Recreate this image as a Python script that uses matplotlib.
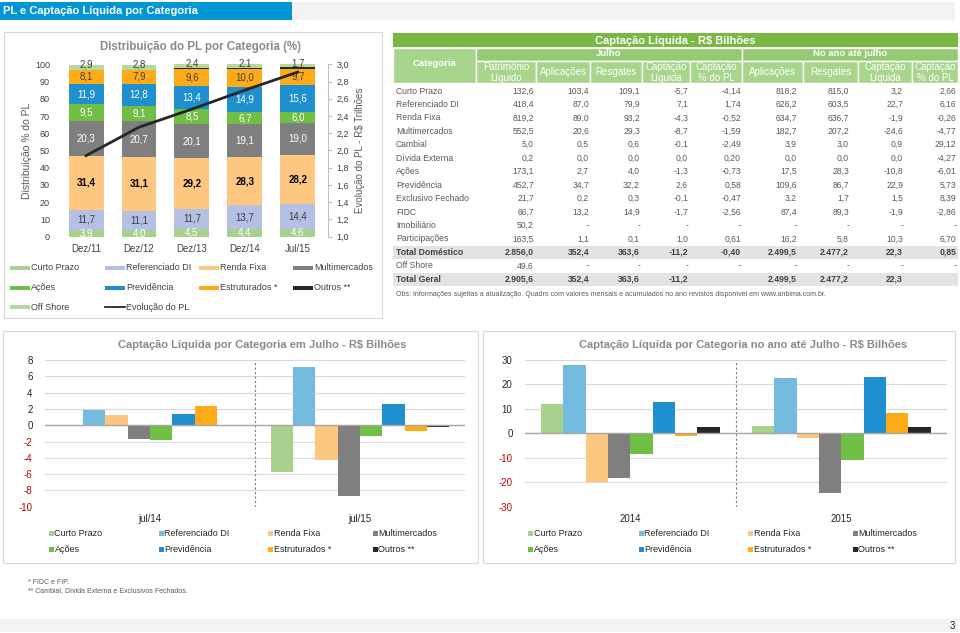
import numpy as np
import matplotlib
matplotlib.use("Agg")
import matplotlib.pyplot as plt
from matplotlib.patches import Rectangle

plt.rcParams['font.family'] = ['Liberation Sans', 'DejaVu Sans']

W, H = 960, 633

# ============================================================
# Data
# ============================================================

periodos_pl = ["Dez/11", "Dez/12", "Dez/13", "Dez/14", "Jul/15"]
curto_prazo = [3.9, 4.0, 4.5, 4.4, 4.6]
referenciado_di = [11.7, 11.1, 11.7, 13.7, 14.4]
renda_fixa = [31.4, 31.1, 29.2, 28.3, 28.2]
multimercados = [20.3, 20.7, 20.1, 19.1, 19.0]
acoes = [9.5, 9.1, 8.5, 6.7, 6.0]
previdencia = [11.9, 12.8, 13.4, 14.9, 15.6]
estruturados = [8.1, 7.9, 9.6, 10.0, 9.7]
outros = [0.1, 0.2, 0.6, 0.8, 0.8]
off_shore = [2.9, 2.8, 2.4, 2.1, 1.7]
evolucao_pl = [1.94, 2.27, 2.48, 2.70, 2.91]   # R$ trilhoes

cats_capt = ["Curto Prazo", "Referenciado DI", "Renda Fixa", "Multimercados",
             "Ações", "Previdência", "Estruturados *", "Outros **"]
meses = ["jul/14", "jul/15"]
capt_jul14 = [-0.05, 1.9, 1.3, -1.75, -1.8, 1.35, 2.3, 0.05]
capt_jul15 = [-5.7, 7.1, -4.3, -8.7, -1.3, 2.6, -0.7, -0.2]
anos = ["2014", "2015"]
capt_ano14 = [11.8, 27.8, -20.1, -18.1, -8.5, 13.0, -1.1, 2.7]
capt_ano15 = [3.2, 22.7, -1.9, -24.6, -10.8, 22.9, 8.4, 2.4]

# table
tab_categorias = ["Curto Prazo", "Referenciado DI", "Renda Fixa", "Multimercados",
                  "Cambial", "Dívida Externa", "Ações", "Previdência",
                  "Exclusivo Fechado", "FIDC", "Imobiliário", "Participações",
                  "Total Doméstico", "Off Shore", "Total Geral"]
tab_pl = ["132,6", "418,4", "819,2", "552,5", "5,0", "0,2", "173,1", "452,7",
          "21,7", "66,7", "50,2", "163,5", "2.856,0", "49,6", "2.905,6"]
tab_aplic_jul = ["103,4", "87,0", "89,0", "20,6", "0,5", "0,0", "2,7", "34,7",
                 "0,2", "13,2", "-", "1,1", "352,4", "-", "352,4"]
tab_resg_jul = ["109,1", "79,9", "93,2", "29,3", "0,6", "0,0", "4,0", "32,2",
                "0,3", "14,9", "-", "0,1", "363,6", "-", "363,6"]
tab_capt_jul = ["-5,7", "7,1", "-4,3", "-8,7", "-0,1", "0,0", "-1,3", "2,6",
                "-0,1", "-1,7", "-", "1,0", "-11,2", "-", "-11,2"]
tab_pct_jul = ["-4,14", "1,74", "-0,52", "-1,59", "-2,49", "0,20", "-0,73", "0,58",
               "-0,47", "-2,56", "-", "0,61", "-0,40", "-", ""]
tab_aplic_ano = ["818,2", "626,2", "634,7", "182,7", "3,9", "0,0", "17,5", "109,6",
                 "3,2", "87,4", "-", "16,2", "2.499,5", "-", "2.499,5"]
tab_resg_ano = ["815,0", "603,5", "636,7", "207,2", "3,0", "0,0", "28,3", "86,7",
                "1,7", "89,3", "-", "5,8", "2.477,2", "-", "2.477,2"]
tab_capt_ano = ["3,2", "22,7", "-1,9", "-24,6", "0,9", "0,0", "-10,8", "22,9",
                "1,5", "-1,9", "-", "10,3", "22,3", "-", "22,3"]
tab_pct_ano = ["2,66", "6,16", "-0,26", "-4,77", "29,12", "-4,27", "-6,01", "5,73",
               "8,39", "-2,86", "-", "6,70", "0,85", "-", ""]

# ============================================================
# Colours
# ============================================================

c_curto = "#a9d18e"
c_refdi = "#b4c0e4"
c_refdi2 = "#74bbe0"
c_renda = "#fdc77f"
c_multi = "#7f7f7f"
c_acoes = "#70bf44"
c_prev = "#1e90d0"
c_estr = "#ffab17"
c_outros = "#262626"
c_off = "#b5d99c"
cores_capt = [c_curto, c_refdi2, c_renda, c_multi, c_acoes, c_prev, c_estr, c_outros]
cinza_txt = "#595959"
titulo_cinza = "#8a8a8a"

# ============================================================
# Figure and background layer (pixel coords)
# ============================================================

fig = plt.figure(figsize=(W / 100, H / 100), dpi=100)
fig.patch.set_facecolor("white")

bg = fig.add_axes([0, 0, 1, 1])
bg.set_xlim(0, W)
bg.set_ylim(H, 0)
bg.axis("off")


def rect(x0, y0, x1, y1, fc, ec="none", lw=0, z=1):
    bg.add_patch(Rectangle((x0, y0), x1 - x0, y1 - y0, facecolor=fc,
                           edgecolor=ec, linewidth=lw, zorder=z))


def px_axes(x0, y0, x1, y1):
    return fig.add_axes([x0 / W, 1 - y1 / H, (x1 - x0) / W, (y1 - y0) / H])


# header
rect(0, 2, 955, 20, "#f2f2f2")
rect(0, 2, 292, 20, "#0096d6")
bg.text(3, 11.5, "PL e Captação Líquida por Categoria", color="white",
        fontsize=8, fontweight="bold", va="center", ha="left")

# panels
rect(4, 32, 382, 318, "white", "#d9d9d9", 0.8)
rect(3, 331, 478, 563, "white", "#d9d9d9", 0.8)
rect(483, 331, 955, 563, "white", "#d9d9d9", 0.8)

# footer
rect(0, 619, 958, 632, "#f2f2f2")
bg.text(952, 626, "3", fontsize=7, color="#262626", ha="center", va="center")
bg.text(28, 582, "* FIDC e FIP.", fontsize=5, color=cinza_txt, va="center")
bg.text(28, 591, "** Cambial, Dívida Externa e Exclusivos Fechados.", fontsize=5,
        color=cinza_txt, va="center")

# ============================================================
# Stacked bar chart - Distribuicao do PL
# ============================================================

ax = px_axes(59.6, 64.3, 328, 236.7)
ax.patch.set_visible(False)
x = np.arange(len(periodos_pl))
series = [
    (curto_prazo, c_curto, "white", "normal"),
    (referenciado_di, c_refdi, "#404040", "normal"),
    (renda_fixa, c_renda, "black", "bold"),
    (multimercados, c_multi, "white", "normal"),
    (acoes, c_acoes, "white", "normal"),
    (previdencia, c_prev, "white", "normal"),
    (estruturados, c_estr, "#404040", "normal"),
    (outros, c_outros, None, None),
    (off_shore, c_off, "#404040", "normal"),
]
base = np.zeros(len(x))
for k, (vals, cor, tcor, tw) in enumerate(series):
    vals = np.array(vals)
    ax.bar(x, vals, bottom=base, width=0.66, color=cor, zorder=2)
    if tcor is not None:
        for i, v in enumerate(vals):
            if k == len(series) - 1:
                ty = base[i] + v + 0.3
            else:
                ty = base[i] + v / 2
            ax.text(x[i], ty, f"{v:.1f}".replace(".", ","), ha="center",
                    va="center", fontsize=7, color=tcor, fontweight=tw, zorder=5)
    base = base + vals

ax.set_xlim(-0.5, 4.57)
ax.set_ylim(0, 100)
ax.set_yticks(np.arange(0, 101, 10))
ax.set_xticks(x, periodos_pl)
for s in ax.spines.values():
    s.set_visible(False)
ax.tick_params(axis="y", length=0, pad=7, labelsize=6.5, labelcolor="#404040")
ax.tick_params(axis="x", length=0, pad=5, labelsize=7, labelcolor="#404040")
ax.set_ylabel("Distribuição % do PL", fontsize=7.5, color="#595959", labelpad=2)

ax2 = ax.twinx()
ax2.plot(x, evolucao_pl, color=c_outros, lw=2, zorder=6)
ax2.set_ylim(1.0, 3.0)
yt = np.arange(1.0, 3.01, 0.2)
ax2.set_yticks(yt, [f"{v:.1f}".replace(".", ",") for v in yt])
for s in ax2.spines.values():
    s.set_visible(False)
ax2.spines["right"].set_visible(True)
ax2.spines["right"].set_color("#bfbfbf")
ax2.tick_params(axis="y", length=3, color="#bfbfbf", pad=3, labelsize=6.5,
                labelcolor="#404040")
ax2.set_ylabel("Evolução do PL - R$ Trilhões", fontsize=7, color="#595959",
               labelpad=4)

bg.text(201, 47, "Distribuição do PL por Categoria (%)", fontsize=8.3,
        fontweight="bold", color=titulo_cinza, ha="center", va="center")

# legend of the stacked chart
leg_top = [
    [("Curto Prazo", c_curto), ("Referenciado DI", c_refdi),
     ("Renda Fixa", c_renda), ("Multimercados", c_multi)],
    [("Ações", c_acoes), ("Previdência", c_prev),
     ("Estruturados *", c_estr), ("Outros **", c_outros)],
    [("Off Shore", c_off), ("Evolução do PL", None)],
]
leg_cols = [10, 105, 199, 293]
leg_rows = [268, 288, 307]
for r, linha in enumerate(leg_top):
    for c, (nome, cor) in enumerate(linha):
        lx, ly = leg_cols[c], leg_rows[r]
        if cor is None:
            bg.plot([lx, lx + 20], [ly, ly], color=c_outros, lw=1.3, zorder=3)
        else:
            rect(lx, ly - 2, lx + 20, ly + 2, cor, z=3)
        bg.text(lx + 21, ly, nome, fontsize=6.5, color="#404040", va="center")

# ============================================================
# Captacao liquida bar charts
# ============================================================


def capt_chart(x0, x1, grupos, v1, v2, ylo, yhi, passo, titulo, tx):
    a = px_axes(x0, 360, x1, 506.7)
    a.patch.set_visible(False)
    w = 0.106
    vals = np.array([v1, v2])
    for i in range(len(cats_capt)):
        xs = np.arange(2) + (i - 3.5) * w
        a.bar(xs, vals[:, i], width=w, color=cores_capt[i], zorder=3)
    a.set_xlim(-0.5, 1.5)
    a.set_ylim(ylo, yhi)
    ticks = np.arange(ylo, yhi + passo, passo)
    a.set_yticks(ticks, [f"{t:g}" for t in ticks])
    for lab, t in zip(a.get_yticklabels(), ticks):
        lab.set_color("#c00000" if t < 0 else "#262626")
    a.grid(axis="y", color="#d9d9d9", lw=0.8, zorder=0)
    a.axhline(0, color="#a6a6a6", lw=1, zorder=4)
    a.axvline(0.5, color="#7f7f7f", lw=0.8, ls=(0, (2, 2)), zorder=2)
    for s in a.spines.values():
        s.set_visible(False)
    a.set_xticks([0, 1], grupos)
    a.tick_params(axis="y", length=0, pad=9, labelsize=7)
    a.tick_params(axis="x", length=0, pad=5, labelsize=7, labelcolor="#262626")
    bg.text(tx, 345, titulo, fontsize=8, fontweight="bold", color=titulo_cinza,
            ha="center", va="center")
    return a


capt_chart(45, 465, meses, capt_jul14, capt_jul15, -10, 8, 2,
           "Captação Líquida por Categoria em Julho - R$ Bilhões", 262)
capt_chart(525, 946.7, anos, capt_ano14, capt_ano15, -30, 30, 10,
           "Captação Líquida por Categoria no ano até Julho - R$ Bilhões", 743)

for off, sq_cols in [(0, [49, 159, 268, 373]), (480, [48, 159, 268, 373])]:
    for i, nome in enumerate(cats_capt):
        lx = off + sq_cols[i % 4]
        ly = [533, 549][i // 4]
        rect(lx, ly - 2.5, lx + 5, ly + 2.5, cores_capt[i], z=3)
        bg.text(lx + 5.5, ly, nome, fontsize=6.5, color="#262626", va="center")

# ============================================================
# Table - Captacao Liquida
# ============================================================

col_edges = [393, 476, 536, 590, 642, 690, 742, 803, 858, 912, 958]
col_right = [534, 589, 640, 688, 741, 797, 849, 903, 956]
verde1 = "#78b843"
verde2 = "#94ca71"
verde3 = "#a6d58b"

rect(393, 33, 958, 47, verde1)
bg.text(675.5, 40.5, "Captação Líquida - R$ Bilhões", color="white",
        fontsize=8, fontweight="bold", ha="center", va="center", zorder=4)
rect(393, 47.5, 476, 83, verde3, "white", 1)
bg.text(434.5, 64, "Categoria", color="white", fontsize=6.8,
        fontweight="bold", ha="center", va="center", zorder=4)
rect(476, 47.5, 742, 60.5, verde2, "white", 1)
bg.text(609, 54, "Julho", color="white", fontsize=6.8, fontweight="bold",
        ha="center", va="center", zorder=4)
rect(742, 47.5, 958, 60.5, verde2, "white", 1)
bg.text(850, 54, "No ano até julho", color="white", fontsize=6.8,
        fontweight="bold", ha="center", va="center", zorder=4)

cab = ["Patrimônio\nLíquido", "Aplicações", "Resgates", "Captação\nLíquida",
       "Captação\n% do PL", "Aplicações", "Resgates", "Captação\nLíquida",
       "Captação\n% do PL"]
for j, nome in enumerate(cab):
    rect(col_edges[j + 1], 60.5, col_edges[j + 2], 83, verde3, "white", 1)
    bg.text((col_edges[j + 1] + col_edges[j + 2]) / 2, 72.3, nome,
            color="white", fontsize=7, ha="center",
            va="center", linespacing=1.15, zorder=4)

colunas = [tab_pl, tab_aplic_jul, tab_resg_jul, tab_capt_jul, tab_pct_jul,
           tab_aplic_ano, tab_resg_ano, tab_capt_ano, tab_pct_ano]
for i, cat in enumerate(tab_categorias):
    y = 91 + i * 13.45
    total = cat.startswith("Total")
    if total:
        rect(393, y - 6.3, 958, y + 6.3, "#e3e3e3")
    cor = "#404040" if total else cinza_txt
    peso = "bold" if total else "normal"
    bg.text(396, y, cat, fontsize=6.2, color=cor, fontweight=peso,
            va="center", zorder=4)
    for j, col in enumerate(colunas):
        bg.text(col_right[j], y, col[i], fontsize=6.2, color=cor,
                fontweight=peso, ha="right", va="center", zorder=4)

bg.text(396, 295, "Obs: Informações sujeitas a atualização. Quadro com valores "
        "mensais e acumulados no ano revistos disponível em www.anbima.com.br.",
        fontsize=5, color=cinza_txt, va="center")

fig.savefig("out.png", dpi=100)
